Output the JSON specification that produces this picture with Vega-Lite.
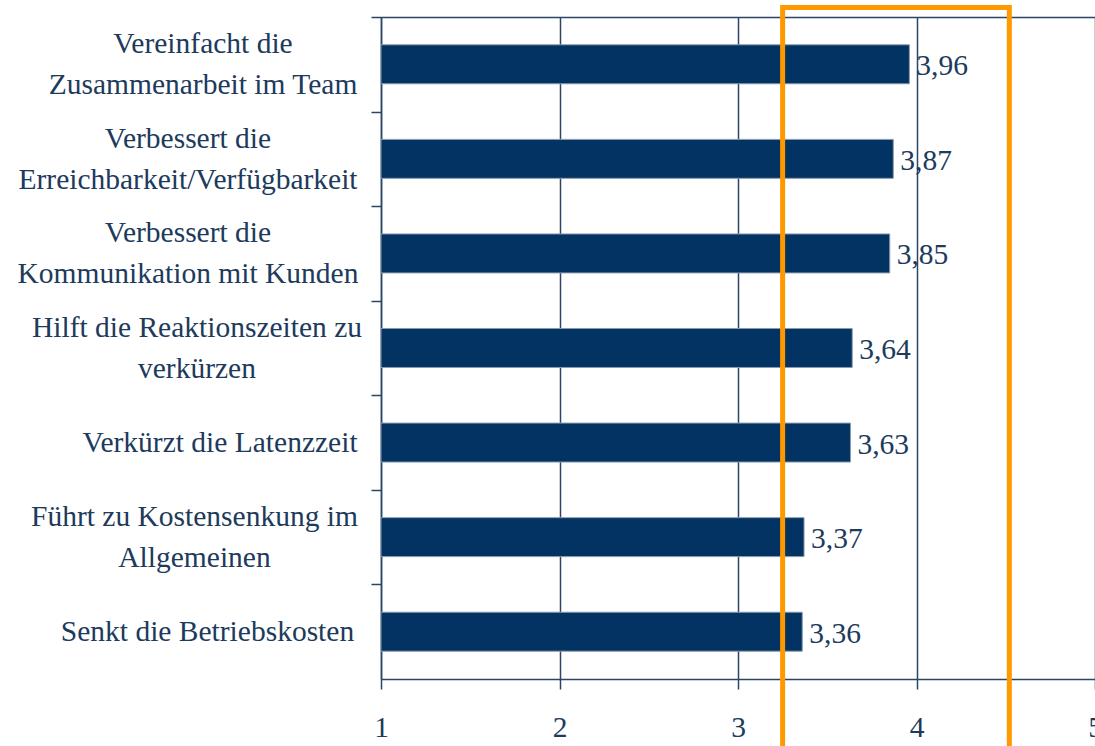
{
  "$schema": "https://vega.github.io/schema/vega-lite/v6.json",
  "width": 714,
  "height": 662,
  "autosize": {"type": "none"},
  "padding": {"left": 381, "top": 17, "right": 0, "bottom": 67},
  "background": "white",
  "config": {
    "locale": {"number": {"decimal": ",", "thousands": ".", "grouping": [3], "currency": ["", " €"]}},
    "view": {"stroke": null},
    "font": "Liberation Serif"
  },
  "datasets": {
    "bars": [
      {"label": "Vereinfacht die|Zusammenarbeit im Team", "value": 3.96},
      {"label": "Verbessert die|Erreichbarkeit/Verfügbarkeit", "value": 3.87},
      {"label": "Verbessert die|Kommunikation mit Kunden", "value": 3.85},
      {"label": "Hilft die Reaktionszeiten zu|verkürzen", "value": 3.64},
      {"label": "Verkürzt die Latenzzeit", "value": 3.63},
      {"label": "Führt zu Kostensenkung im|Allgemeinen", "value": 3.37},
      {"label": "Senkt die Betriebskosten", "value": 3.36}
    ],
    "box": [{"x": 3.25, "x2": 4.52, "y": 1.0144, "y2": -0.2}]
  },
  "layer": [
    {
      "data": {"name": "bars"},
      "mark": {"type": "bar", "color": "#023362", "stroke": "#8a9bb0", "strokeWidth": 1},
      "encoding": {
        "y": {
          "field": "label",
          "type": "nominal",
          "sort": null,
          "scale": {"type": "band", "paddingInner": 0.588, "paddingOuter": 0.294},
          "axis": {
            "title": null,
            "labelExpr": "split(datum.label, '|')",
            "labelAlign": "center",
            "labelBaseline": "middle",
            "labelPadding": {"expr": "indexof(datum.value,'Latenzzeit')>=0 ? 151.5 : (indexof(datum.value,'Erreichbarkeit')>=0 || indexof(datum.value,'Kommunikation')>=0) ? 183.5 : indexof(datum.value,'Kostensenkung')>=0 ? 177 : indexof(datum.value,'Reaktionszeiten')>=0 ? 174.5 : indexof(datum.value,'Zusammenarbeit')>=0 ? 168.5 : 164"},
            "tickOffset": -47.3,
            "labelOffset": {"expr": "indexof(datum.value,'|')>=0 ? 26.8 : 47.3"},
            "labelFontSize": 29.5,
            "labelFont": "Liberation Serif",
            "labelColor": "#203a5c",
            "labelLineHeight": 41,
            "labelLimit": 500,
            "labelOverlap": false,
            "tickSize": 10,
            "tickColor": "#2b4664",
            "tickWidth": 1.5,
            "domainColor": "#2b4664",
            "domainWidth": 1.5,
            "grid": false
          }
        },
        "x": {
          "field": "value",
          "type": "quantitative",
          "scale": {"domain": [1, 5], "nice": false, "zero": false},
          "axis": {
            "title": null,
            "values": [1, 2, 3, 4, 5],
            "format": "d",
            "grid": true,
            "gridColor": "#2b4664",
            "gridWidth": 1.5,
            "tickSize": 10,
            "tickColor": "#2b4664",
            "tickWidth": 1.5,
            "domainColor": "#2b4664",
            "domainWidth": 1.5,
            "labelFontSize": 29.5,
            "labelFont": "Liberation Serif",
            "labelColor": "#203a5c",
            "labelPadding": 24,
            "labelFlush": false,
            "labelOverlap": false
          }
        },
        "x2": {"datum": 1}
      }
    },
    {
      "data": {"name": "bars"},
      "mark": {"type": "text", "align": "left", "baseline": "middle", "dx": 7, "dy": 2, "fontSize": 29.5, "font": "Liberation Serif", "color": "#203a5c"},
      "encoding": {
        "y": {"field": "label", "type": "nominal", "sort": null, "scale": {"type": "band", "paddingInner": 0.588, "paddingOuter": 0.294}, "axis": null},
        "x": {"field": "value", "type": "quantitative"},
        "text": {"field": "value", "type": "quantitative", "format": ".2f"}
      }
    },
    {
      "data": {"name": "box"},
      "mark": {"type": "rect", "fill": "transparent", "stroke": "#FF9900", "strokeWidth": 5, "clip": false},
      "encoding": {
        "x": {"field": "x", "type": "quantitative"},
        "x2": {"field": "x2"},
        "y": {
          "field": "y",
          "type": "quantitative",
          "scale": {"domain": [0, 1], "nice": false, "zero": false},
          "axis": {"title": null, "values": [1], "grid": true, "gridColor": "#2b4664", "gridWidth": 1.5, "labels": false, "ticks": false, "domain": false}
        },
        "y2": {"field": "y2"}
      }
    }
  ],
  "resolve": {"scale": {"y": "independent"}}
}
